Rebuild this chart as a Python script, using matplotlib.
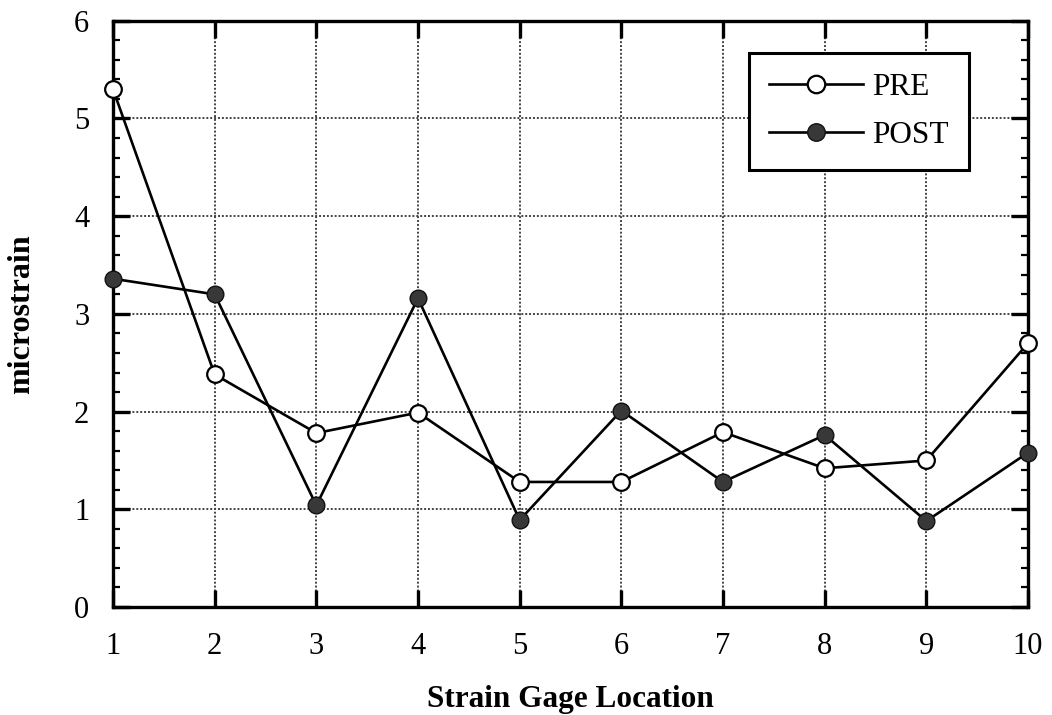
import matplotlib
matplotlib.use("Agg")
import matplotlib.pyplot as plt
from matplotlib.ticker import MultipleLocator

locations = [1, 2, 3, 4, 5, 6, 7, 8, 9, 10]
pre = [5.30, 2.38, 1.78, 1.99, 1.28, 1.28, 1.79, 1.42, 1.50, 2.70]
post = [3.36, 3.20, 1.04, 3.16, 0.89, 2.01, 1.28, 1.76, 0.88, 1.58]

plt.rcParams['font.family'] = ['Liberation Serif', 'DejaVu Serif']

fig = plt.figure(figsize=(10.52, 7.15), dpi=100)
ax = fig.add_axes([0.1074, 0.151, 0.8698, 0.8200])

ax.plot(locations, pre, '-o', color='black', lw=1.9, ms=12,
        mfc='white', mec='black', mew=1.6, label='PRE', zorder=3, clip_on=False)
ax.plot(locations, post, '-o', color='black', lw=1.9, ms=12,
        mfc='#383838', mec='#111111', mew=1.0, label='POST', zorder=3, clip_on=False)

ax.set_xlim(1, 10)
ax.set_ylim(0, 6)
ax.xaxis.set_major_locator(MultipleLocator(1))
ax.yaxis.set_major_locator(MultipleLocator(1))
ax.yaxis.set_minor_locator(MultipleLocator(0.2))

ax.grid(True, which='major', color='#444444', linestyle=(0, (1, 1)), lw=1.4)
ax.tick_params(axis='both', which='major', direction='in', length=12, width=2.4,
               top=True, right=True, labelsize=22)
ax.tick_params(axis='x', which='major', pad=18)
ax.tick_params(axis='y', which='major', pad=17)
ax.tick_params(which='minor', direction='in', length=5, width=1.6,
               left=True, right=True)
for s in ax.spines.values():
    s.set_linewidth(2.4)

ax.set_xlabel('Strain Gage Location', fontsize=22.5, fontweight='bold', labelpad=17)
ax.set_ylabel('microstrain', fontsize=23, fontweight='bold', labelpad=27)

leg = ax.legend(loc='upper right', bbox_to_anchor=(0.9355, 0.945), fontsize=22.5,
                frameon=True, fancybox=False, framealpha=1, edgecolor='black',
                handlelength=3.0, borderpad=0.65, labelspacing=0.6, handletextpad=0.3,
                borderaxespad=0, markerscale=1.05)
leg.get_frame().set_linewidth(2.2)

fig.savefig('out.png', dpi=100)
